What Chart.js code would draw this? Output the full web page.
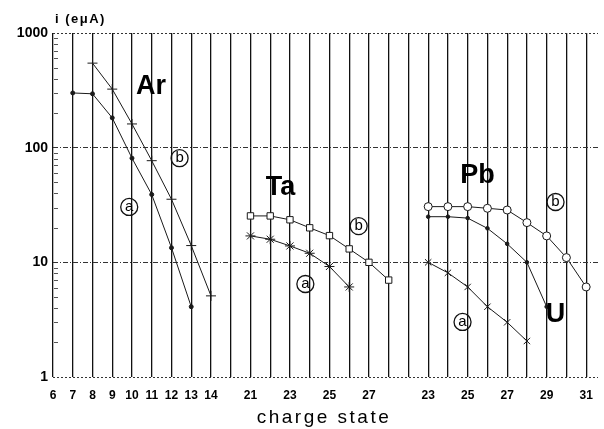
<!DOCTYPE html>
<html>
<head>
<meta charset="utf-8">
<script src="https://cdn.jsdelivr.net/npm/chart.js@4.4.0/dist/chart.umd.min.js"></script>
<style>
  html, body { margin: 0; padding: 0; background: #fff; }
  #wrap { width: 604px; height: 429px; }
</style>
</head>
<body>
<div id="wrap"><canvas id="chart"></canvas></div>
<script>
// x slots: three charge-state groups on one axis, blank slots between them
const xLabels = ['6', '7', '8', '9', '10', '11', '12', '13', '14', '',
  '21', '', '23', '', '25', '', '27', '', '',
  '23', '', '25', '', '27', '', '29', '', '31'];
const yTicks = [1, 10, 100, 1000];

// Ar group (slot = q - 6)
const arChargeA = [7, 8, 9, 10, 11, 12, 13];
const arA = [300, 295, 182, 81, 39, 13.4, 4.1];
const arChargeB = [8, 9, 10, 11, 12, 13, 14];
const arB = [546, 324, 161, 77, 35.5, 14, 5.1];

// Ta group (slot = q - 11)
const taChargeB = [21, 22, 23, 24, 25, 26, 27, 28];
const taB = [25.4, 25.4, 23.5, 20, 17.1, 13.1, 10, 7.0];
const taChargeA = [21, 22, 23, 24, 25, 26];
const taA = [17, 15.9, 13.9, 12, 9.2, 6.1];

// Pb / U group (slot = q - 4)
const pbChargeB = [23, 24, 25, 26, 27, 28, 29, 30, 31];
const pbB = [30.6, 30.6, 30.6, 29.6, 28.6, 22.2, 17, 11, 6.1];
const uCharge = [23, 24, 25, 26, 27, 28, 29];
const uVals = [25, 25, 24.3, 19.8, 14.5, 10, 4.1];
const pbChargeA = [23, 24, 25, 26, 27, 28];
const pbA = [10, 8.1, 6.1, 4.1, 3.0, 2.06];

const AR_OFF = 6, TA_OFF = 11, PB_OFF = 4;

// annotations: [text, slot, value, circled]
const notes = [
  ['Ar', 4.96, 338, false],
  ['Ta', 11.52, 44.5, false],
  ['Pb', 21.5, 56.6, false],
  ['U', 25.45, 3.54, false],
  ['b', 6.41, 81, true],
  ['a', 3.86, 30.4, true],
  ['b', 15.48, 20.7, true],
  ['a', 12.78, 6.47, true],
  ['b', 25.45, 33.6, true],
  ['a', 20.74, 3.02, true],
];

const pts = (charges, vals, off) => charges.map((q, i) => ({ x: q - off, y: vals[i] }));
const isDecade = (v) => Math.abs(Math.log10(v) - Math.round(Math.log10(v))) < 1e-9;

const INK = '#1a1a1a';
const line = (data, style, radius, fill, extra) => Object.assign({
  data,
  borderColor: INK,
  borderWidth: 1,
  pointStyle: style,
  pointRadius: radius,
  pointBorderColor: INK,
  pointBorderWidth: 1,
  pointBackgroundColor: fill,
  tension: 0,
}, extra || {});

const decor = {
  id: 'decor',
  afterDraw(chart) {
    const { ctx, chartArea: a, scales: { x, y } } = chart;
    ctx.save();
    // minor ticks inside the left axis
    ctx.strokeStyle = '#555';
    ctx.lineWidth = 1;
    [1, 10, 100].forEach((d) => {
      for (let m = 2; m <= 9; m++) {
        const py = Math.round(y.getPixelForValue(d * m)) + 0.5;
        ctx.beginPath();
        ctx.moveTo(a.left + 1, py);
        ctx.lineTo(a.left + 5, py);
        ctx.stroke();
      }
    });
    const spacing = (v) => { if ('letterSpacing' in ctx) ctx.letterSpacing = v; };
    // unit label
    ctx.fillStyle = '#000';
    ctx.font = 'bold 13px "Liberation Sans", Arial, sans-serif';
    ctx.textAlign = 'left';
    ctx.textBaseline = 'middle';
    spacing('1.5px');
    ctx.fillText('i (eμA)', a.left + 2, 19);
    // axis title
    ctx.font = '19px "Liberation Sans", Arial, sans-serif';
    ctx.textAlign = 'center';
    spacing('2.5px');
    ctx.fillText('charge state', 324, 418);
    spacing('0px');
    // labels on the curves
    notes.forEach(([t, sx, sv, circled]) => {
      const px = x.getPixelForValue(sx);
      const py = y.getPixelForValue(sv);
      if (circled) {
        ctx.font = '15px "Liberation Sans", Arial, sans-serif';
        ctx.fillText(t, px, py);
        ctx.beginPath();
        ctx.arc(px, py, 8.5, 0, Math.PI * 2);
        ctx.lineWidth = 1.3;
        ctx.strokeStyle = '#111';
        ctx.stroke();
      } else {
        ctx.font = 'bold 27px "Liberation Sans", Arial, sans-serif';
        ctx.fillText(t, px, py);
      }
    });
    ctx.restore();
  },
};

new Chart(document.getElementById('chart'), {
  type: 'line',
  data: {
    datasets: [
      line(pts(arChargeA, arA, AR_OFF), 'circle', 2, INK),
      line(pts(arChargeB, arB, AR_OFF), 'cross', 5, INK),
      line(pts(taChargeB, taB, TA_OFF), 'rect', 4.5, '#fff'),
      line(pts(taChargeA, taA, TA_OFF), 'star', 5, INK),
      line(pts(pbChargeB, pbB, PB_OFF), 'circle', 4, '#fff'),
      line(pts(pbChargeB, pbB, PB_OFF), 'cross', 4, INK, { showLine: false, pointBorderWidth: 1.2 }),
      line(pts(uCharge, uVals, PB_OFF), 'circle', 1.8, INK),
      line(pts(pbChargeA, pbA, PB_OFF), 'crossRot', 4.5, INK),
    ],
  },
  options: {
    responsive: true,
    maintainAspectRatio: false,
    animation: false,
    layout: { padding: { top: 33, right: 0, left: 0, bottom: 0 } },
    plugins: { legend: { display: false }, tooltip: { enabled: false } },
    scales: {
      x: {
        type: 'linear',
        min: 0,
        max: 27.6,
        afterFit(s) { s.height = 52; },
        border: { display: false },
        grid: { color: '#111', lineWidth: 1.3, drawTicks: false },
        ticks: {
          stepSize: 1,
          includeBounds: false,
          autoSkip: false,
          maxRotation: 0,
          padding: 11,
          color: '#000',
          font: { family: '"Liberation Sans", Arial, sans-serif', size: 12, weight: 'bold' },
          callback: (v) => xLabels[v] ?? '',
        },
      },
      y: {
        type: 'logarithmic',
        min: yTicks[0],
        max: yTicks[yTicks.length - 1],
        afterFit(s) { s.width = 53; },
        border: {
          display: false,
          dash: (c) => (c.tick && (c.tick.value === 1 || c.tick.value === 1000) ? [2, 2] : [5, 2, 1, 2]),
        },
        grid: {
          drawTicks: false,
          lineWidth: 1,
          color: (c) => (c.tick && isDecade(c.tick.value) ? '#333' : 'rgba(0,0,0,0)'),
        },
        ticks: {
          padding: 5,
          autoSkip: false,
          color: '#000',
          font: { family: '"Liberation Sans", Arial, sans-serif', size: 14, weight: 'bold' },
          callback: (v) => (yTicks.includes(v) ? String(v) : ''),
        },
      },
    },
  },
  plugins: [decor],
});
</script>
</body>
</html>
